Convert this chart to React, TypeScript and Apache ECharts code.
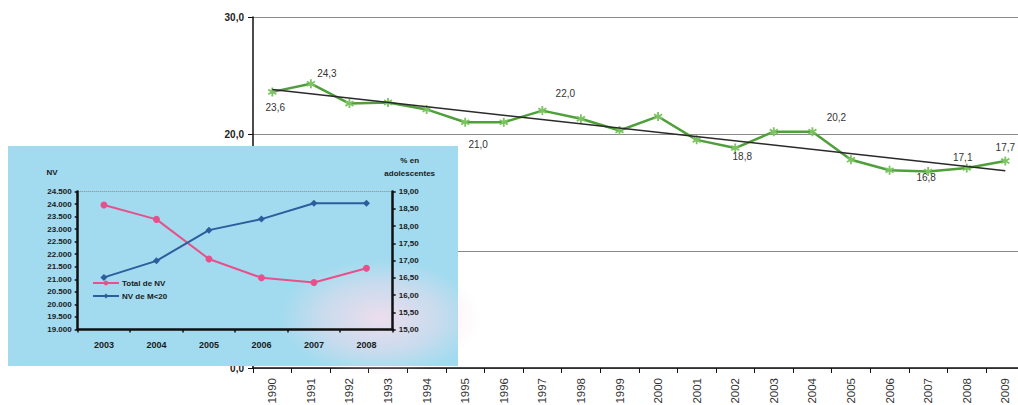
import React, { useEffect, useRef } from "react";
import * as echarts from "echarts";

// Main series: adolescent birth rate by year
const years = [
  "1990", "1991", "1992", "1993", "1994", "1995", "1996", "1997", "1998", "1999",
  "2000", "2001", "2002", "2003", "2004", "2005", "2006", "2007", "2008", "2009",
];
const rate = [
  23.6, 24.3, 22.6, 22.7, 22.1, 21.0, 21.0, 22.0, 21.3, 20.3,
  21.5, 19.5, 18.8, 20.2, 20.2, 17.8, 16.9, 16.8, 17.1, 17.7,
];
// Linear trend: value at first and last year
const trendEnds = [23.8, 16.85];
const mainAxisMin = 0;
const mainAxisMax = 30;
const mainAxisStep = 10;

// Inset: births 2003-2008
const insetYears = ["2003", "2004", "2005", "2006", "2007", "2008"];
const totalNV = [23960, 23390, 21810, 21060, 20870, 21440];
const pctAdolescent = [16.51, 16.99, 17.88, 18.2, 18.66, 18.66];
const insetLeftMin = 19000;
const insetLeftMax = 24500;
const insetLeftStep = 500;
const insetRightMin = 15;
const insetRightMax = 19;
const insetRightStep = 0.5;

// Which points carry a value label, and where it sits
const labelPlacement: Record<string, { position: string; offset: number[] }> = {
  "1990": { position: "bottom", offset: [3, 1] },
  "1991": { position: "top", offset: [16, 4] },
  "1995": { position: "bottom", offset: [13, 8] },
  "1997": { position: "top", offset: [23, -3] },
  "2002": { position: "bottom", offset: [7, -6] },
  "2004": { position: "top", offset: [24, 0] },
  "2007": { position: "bottom", offset: [-2, -8] },
  "2008": { position: "top", offset: [-4, 4] },
  "2009": { position: "top", offset: [0, 1] },
};

const FONT = "'Liberation Sans', Arial, sans-serif";
const comma1 = (v: number) => v.toFixed(1).replace(".", ",");
const comma2 = (v: number) => v.toFixed(2).replace(".", ",");
const thousands = (v: number) =>
  Math.round(v).toString().replace(/\B(?=(\d{3})+(?!\d))/g, ".");

const asterisk =
  "path://M-1,-5 L1,-5 L1,-1.7 L3.9,-3.4 L4.9,-1.7 L2,0 L4.9,1.7 L3.9,3.4 L1,1.7 L1,5 L-1,5 L-1,1.7 L-3.9,3.4 L-4.9,1.7 L-2,0 L-4.9,-1.7 L-3.9,-3.4 L-1,-1.7 Z";

export default function App() {
  const ref = useRef<HTMLDivElement>(null);

  useEffect(() => {
    if (!ref.current) return;
    const chart = echarts.init(ref.current, undefined, { renderer: "svg" });

    const rateData = rate.map((v, i) => {
      const place = labelPlacement[years[i]];
      return place
        ? {
            value: v,
            label: {
              show: true,
              position: place.position,
              offset: place.offset,
              distance: 5,
            },
          }
        : { value: v };
    });

    const trendData = years.map((_, i) =>
      i === 0 ? trendEnds[0] : i === years.length - 1 ? trendEnds[1] : null
    );

    const insetAxisLine = { show: true, lineStyle: { color: "#111", width: 2.5 } };
    const insetTick = { show: true, length: 3, lineStyle: { color: "#111", width: 1.5 } };
    const insetLabel = { fontFamily: FONT, fontSize: 8, fontWeight: "bold" as const, color: "#1a1a1a" };

    chart.setOption({
      animation: false,
      backgroundColor: "#ffffff",
      textStyle: { fontFamily: FONT },
      grid: [
        { left: 253, top: 17, width: 771.6, height: 351 },
        { left: 77.7, top: 191.5, width: 315, height: 138 },
      ],
      xAxis: [
        {
          type: "category",
          gridIndex: 0,
          data: years,
          boundaryGap: true,
          z: 1,
          axisLine: { show: true, lineStyle: { color: "#111", width: 1.5 } },
          axisTick: { show: true, length: 5, lineStyle: { color: "#111" } },
          axisLabel: {
            interval: 0,
            rotate: 90,
            margin: 10,
            fontSize: 11.5,
            color: "#333",
            fontFamily: FONT,
          },
        },
        {
          type: "category",
          gridIndex: 1,
          data: insetYears,
          boundaryGap: true,
          z: 10,
          axisLine: insetAxisLine,
          axisTick: insetTick,
          axisLabel: { ...insetLabel, fontSize: 9, margin: 11 },
        },
      ],
      yAxis: [
        {
          type: "value",
          gridIndex: 0,
          min: mainAxisMin,
          max: mainAxisMax,
          interval: mainAxisStep,
          z: 1,
          axisLine: { show: true, lineStyle: { color: "#111", width: 1.5 } },
          axisTick: { show: true, length: 5, lineStyle: { color: "#111" } },
          axisLabel: {
            formatter: comma1,
            fontSize: 10,
            fontWeight: "bold",
            color: "#222",
            margin: 9,
            fontFamily: FONT,
          },
          splitLine: { show: true, lineStyle: { color: "#8a8a8a", width: 1 } },
        },
        {
          type: "value",
          gridIndex: 1,
          min: insetLeftMin,
          max: insetLeftMax,
          interval: insetLeftStep,
          z: 10,
          name: "NV",
          nameLocation: "end",
          nameGap: 15,
          nameTextStyle: { ...insetLabel, align: "right", padding: [0, 20, 0, 0] },
          axisLine: insetAxisLine,
          axisTick: insetTick,
          axisLabel: { ...insetLabel, formatter: thousands, margin: 6 },
          splitLine: { show: false },
        },
        {
          type: "value",
          gridIndex: 1,
          position: "right",
          min: insetRightMin,
          max: insetRightMax,
          interval: insetRightStep,
          z: 10,
          name: "% en\nadolescentes",
          nameLocation: "end",
          nameGap: 12,
          nameTextStyle: { ...insetLabel, align: "center", lineHeight: 13, padding: [0, 0, 0, 34] },
          axisLine: insetAxisLine,
          axisTick: insetTick,
          axisLabel: { ...insetLabel, formatter: comma2, margin: 6 },
          splitLine: { show: false },
        },
      ],
      legend: {
        orient: "vertical",
        left: 92,
        top: 279,
        z: 12,
        itemWidth: 26,
        itemHeight: 6,
        itemGap: 5,
        padding: 0,
        data: ["Total de NV", "NV de M<20"],
        textStyle: { ...insetLabel, padding: [0, 0, 0, -2] },
      },
      graphic: [
        {
          type: "rect",
          z: 5,
          silent: true,
          shape: { x: 8, y: 146, width: 450, height: 220 },
          style: { fill: "#a2dbef" },
        },
        {
          type: "ellipse",
          z: 6,
          silent: true,
          shape: { cx: 380, cy: 318, rx: 100, ry: 58 },
          style: {
            fill: {
              type: "radial",
              x: 0.5,
              y: 0.5,
              r: 0.5,
              colorStops: [
                { offset: 0, color: "rgba(250,222,236,0.85)" },
                { offset: 0.6, color: "rgba(245,220,236,0.45)" },
                { offset: 1, color: "rgba(240,220,236,0)" },
              ],
            },
          },
        },
      ],
      series: [
        {
          name: "trend",
          type: "line",
          xAxisIndex: 0,
          yAxisIndex: 0,
          z: 3,
          data: trendData,
          connectNulls: true,
          showSymbol: false,
          symbol: "none",
          lineStyle: { color: "#2a2a2a", width: 1.5 },
          silent: true,
        },
        {
          name: "rate",
          type: "line",
          xAxisIndex: 0,
          yAxisIndex: 0,
          z: 2,
          data: rateData,
          symbol: asterisk,
          symbolSize: 9,
          itemStyle: { color: "#7cc462" },
          lineStyle: { color: "#4f9f3b", width: 2.5 },
          label: {
            show: false,
            formatter: (p: any) => comma1(p.value),
            fontSize: 10,
            color: "#333",
            fontFamily: FONT,
          },
        },
        {
          name: "Total de NV",
          type: "line",
          xAxisIndex: 1,
          yAxisIndex: 1,
          z: 11,
          data: totalNV,
          symbol: "circle",
          symbolSize: 7,
          itemStyle: { color: "#e8508c" },
          lineStyle: { color: "#e8508c", width: 2 },
          markLine: {
            silent: true,
            symbol: "none",
            label: { show: false },
            lineStyle: { color: "#8a8a8a", width: 1, type: "dotted" },
            data: [{ yAxis: insetLeftMax }],
          },
        },
        {
          name: "NV de M<20",
          type: "line",
          xAxisIndex: 1,
          yAxisIndex: 2,
          z: 11,
          data: pctAdolescent,
          symbol: "diamond",
          symbolSize: 7,
          itemStyle: { color: "#2d5d9c" },
          lineStyle: { color: "#2d5d9c", width: 2 },
        },
      ],
    });

    return () => chart.dispose();
  }, []);

  return (
    <div
      style={{
        position: "fixed",
        left: 0,
        top: 0,
        width: 1018,
        height: 405,
        overflow: "hidden",
        background: "#fff",
      }}
    >
      <div ref={ref} style={{ width: 1040, height: 440 }} />
    </div>
  );
}
